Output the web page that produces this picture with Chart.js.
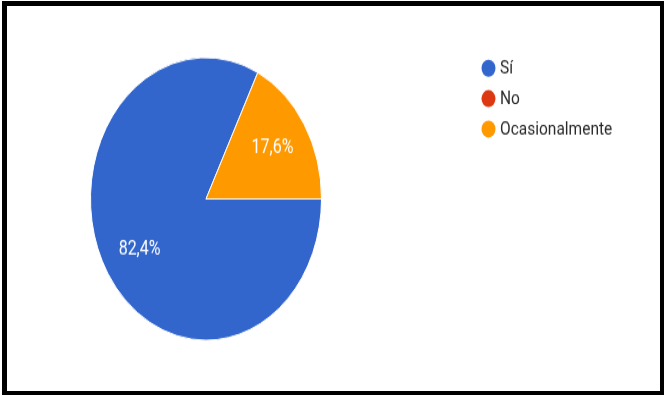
<!DOCTYPE html>
<html>
<head>
<meta charset="utf-8">
<script src="https://cdn.jsdelivr.net/npm/chart.js@4.4.1/dist/chart.umd.min.js"></script>
<style>
  html, body { margin: 0; padding: 0; background: #fff; width: 665px; height: 396px; overflow: hidden; }
  #frame { position: absolute; left: 2px; top: 1px; width: 662px; height: 394px; box-sizing: border-box;
           border: 4px solid #000; border-left-width: 5px; border-top-width: 5px; pointer-events: none; z-index: 2; }
  #c { position: absolute; left: 0; top: 0; transform: scaleY(1.224); transform-origin: 0 0; }
</style>
</head>
<body>
<canvas id="c" width="665" height="324"></canvas>
<div id="frame"></div>
<script>
const categories = ['Sí', 'No', 'Ocasionalmente'];
const percentages = [82.4, 0, 17.6];
const colors = ['#3366CC', '#DC3912', '#FF9900'];

const sliceLabels = {
  id: 'sliceLabels',
  afterDatasetsDraw(chart) {
    const ctx = chart.ctx;
    const meta = chart.getDatasetMeta(0);
    const data = chart.data.datasets[0].data;
    const total = data.reduce((a, b) => a + b, 0);
    ctx.save();
    ctx.font = '16px Roboto';
    ctx.fillStyle = '#ffffff';
    ctx.textAlign = 'center';
    ctx.textBaseline = 'middle';
    meta.data.forEach((arc, i) => {
      if (!data[i]) return;
      const p = arc.getProps(['x', 'y', 'startAngle', 'endAngle', 'outerRadius'], true);
      const mid = (p.startAngle + p.endAngle) / 2;
      const r = p.outerRadius * 0.676;
      const txt = (data[i] / total * 100).toFixed(1).replace('.', ',') + '%';
      ctx.fillText(txt, p.x + Math.cos(mid) * r, p.y + Math.sin(mid) * r);
    });
    ctx.restore();
  }
};

const sideLegend = {
  id: 'sideLegend',
  afterDraw(chart) {
    const ctx = chart.ctx;
    const labels = chart.data.labels;
    const bg = chart.data.datasets[0].backgroundColor;
    ctx.save();
    ctx.font = '15.5px Roboto';
    ctx.textAlign = 'left';
    ctx.textBaseline = 'middle';
    labels.forEach((lab, i) => {
      const y = 55.8 + i * 24.8;
      ctx.beginPath();
      ctx.arc(488.5, y, 7, 0, Math.PI * 2);
      ctx.fillStyle = bg[i];
      ctx.fill();
      ctx.fillStyle = '#2a2a2a';
      ctx.fillText(lab, 500, y + 0.5);
    });
    ctx.restore();
  }
};

new Chart(document.getElementById('c'), {
  type: 'pie',
  data: {
    labels: categories,
    datasets: [{
      data: percentages,
      backgroundColor: colors,
      borderColor: '#ffffff',
      borderWidth: 1
    }]
  },
  options: {
    responsive: false,
    animation: false,
    rotation: 90,
    layout: { padding: { left: 90, right: 343, top: 46.5, bottom: 45.5 } },
    plugins: {
      legend: { display: false },
      tooltip: { enabled: false }
    }
  },
  plugins: [sliceLabels, sideLegend]
});
</script>
</body>
</html>
